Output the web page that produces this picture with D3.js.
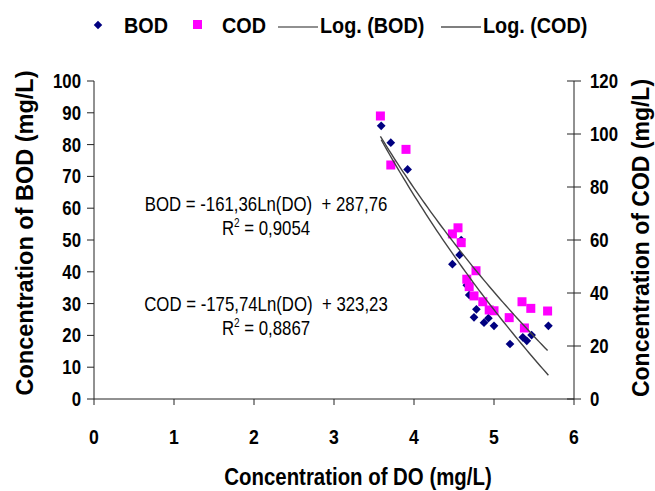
<!DOCTYPE html>
<html><head><meta charset="utf-8">
<script src="https://cdn.jsdelivr.net/npm/d3@7/dist/d3.min.js"></script>
<style>
body{margin:0;background:#fff}
svg text{font-family:"Liberation Sans",Arial,Helvetica,sans-serif;fill:#000}
</style>
</head><body>
<svg id="chart" width="655" height="491"></svg>
<script>
// ---- data ----
const doBOD   = [3.59,3.71,3.92,4.48,4.57,4.59,4.66,4.69,4.78,4.75,4.875,4.93,5.00,5.20,5.36,5.41,5.47,5.68];
const bodVals = [85.9,80.6,72.2,42.4,45.3,50.0,35.8,32.7,28.2,25.7,24.0,25.4,23.0,17.3,19.4,18.3,20.1,23.0];
const doCOD   = [3.58,3.71,3.90,4.48,4.55,4.59,4.775,4.66,4.69,4.75,4.86,4.94,5.00,5.19,5.35,5.46,5.67,5.38];
const codVals = [106.8,88.3,94.2,62.3,64.6,59.0,48.4,45.2,42.4,38.9,36.7,33.6,33.3,30.7,36.7,34.2,33.2,26.8];
const xTicks   = [0,1,2,3,4,5,6];
const bodTicks = [0,10,20,30,40,50,60,70,80,90,100];
const codTicks = [0,20,40,60,80,100,120];
const legendLabels = ["BOD","COD","Log. (BOD)","Log. (COD)"];
const bodFit = [-161.36, 287.76];
const codFit = [-175.74, 323.23];
const eqBOD = "BOD = -161,36Ln(DO)  + 287,76", r2BOD = "0,9054";
const eqCOD = "COD = -175,74Ln(DO)  + 323,23", r2COD = "0,8867";
const xTitle = "Concentration of DO (mg/L)";
const yTitleL = "Concentration of BOD (mg/L)";
const yTitleR = "Concentration of COD (mg/L)";

// ---- layout ----
const L = 94, R = 574, T = 81, B = 399;
const K = 0.84; // horizontal text squeeze
const svg = d3.select("#chart");
const x = d3.scaleLinear().domain([0,6]).range([L,R]);
const yB = d3.scaleLinear().domain([0,100]).range([B,T]);
const yC = d3.scaleLinear().domain([0,120]).range([B,T]);
const axisColor = "#222";

function htext(g, tx, ty, str, size, anchor, weight, k){
  return g.append("text")
    .attr("transform", `translate(${tx},${ty}) scale(${k},1)`)
    .attr("text-anchor", anchor).attr("font-size", size)
    .attr("font-weight", weight).style("white-space","pre").text(str);
}

// axes lines
svg.append("line").attr("x1",L).attr("x2",L).attr("y1",T).attr("y2",B).attr("stroke",axisColor);
svg.append("line").attr("x1",R).attr("x2",R).attr("y1",T).attr("y2",B).attr("stroke",axisColor);
svg.append("line").attr("x1",L).attr("x2",R).attr("y1",B).attr("y2",B).attr("stroke",axisColor);

// left ticks
const gl = svg.append("g");
bodTicks.forEach(v=>{
  gl.append("line").attr("x1",L-7).attr("x2",L).attr("y1",yB(v)).attr("y2",yB(v)).attr("stroke",axisColor);
  htext(gl, 81, yB(v)+7, String(v), 20, "end", "bold", K);
});
// right ticks
const gr = svg.append("g");
codTicks.forEach(v=>{
  gr.append("line").attr("x1",R-7).attr("x2",R+7).attr("y1",yC(v)).attr("y2",yC(v)).attr("stroke",axisColor);
  htext(gr, 590, yC(v)+7, String(v), 20, "start", "bold", K);
});
// x ticks
const gx = svg.append("g");
xTicks.forEach(v=>{
  gx.append("line").attr("x1",x(v)).attr("x2",x(v)).attr("y1",B).attr("y2",B+6).attr("stroke",axisColor);
  htext(gx, x(v), 444, String(v), 21, "middle", "bold", K);
});

// titles
htext(svg, 358, 485, xTitle, 24, "middle", "bold", 0.85);
svg.append("text").attr("transform","translate(33,233) rotate(-90)")
  .attr("text-anchor","middle").attr("font-size",23.5).attr("font-weight","bold").text(yTitleL);
svg.append("text").attr("transform","translate(649,238) rotate(-90)")
  .attr("text-anchor","middle").attr("font-size",23).attr("font-weight","bold").text(yTitleR);

// markers
svg.append("g").selectAll("path").data(doBOD).join("path")
  .attr("d", d3.symbol().type(d3.symbolSquare).size(38))
  .attr("transform",(d,i)=>`translate(${x(d)},${yB(bodVals[i])}) rotate(45)`)
  .attr("fill","#000080");
svg.append("g").selectAll("rect").data(doCOD).join("rect")
  .attr("x",d=>x(d)-4.5).attr("y",(d,i)=>yC(codVals[i])-4.5)
  .attr("width",9).attr("height",9).attr("fill","#ff00ff");

// trendlines
function fitLine(fit, xs, ys){
  const xmin = d3.min(xs), xmax = d3.max(xs);
  const pts = d3.range(xmin, xmax+1e-9, (xmax-xmin)/60).map(t=>[x(t), ys(fit[0]*Math.log(t)+fit[1])]);
  svg.append("path").attr("d", d3.line()(pts)).attr("fill","none")
    .attr("stroke","#444").attr("stroke-width",1.4);
}
fitLine(bodFit, doBOD, yB);
fitLine(codFit, doCOD, yC);

// equations
function eq(cx, y1, line1, r2){
  htext(svg, cx, y1, line1, 20, "middle", "normal", K);
  const t = svg.append("text").attr("transform",`translate(${cx},${y1+24}) scale(${K},1)`)
    .attr("text-anchor","middle").attr("font-size",20);
  t.append("tspan").text("R");
  t.append("tspan").attr("font-size",12).attr("dy",-8).text("2");
  t.append("tspan").attr("dy",8).text(" = " + r2);
}
eq(266, 211, eqBOD, r2BOD);
eq(266, 311, eqCOD, r2COD);

// legend
const lg = svg.append("g");
const ly = 25;
lg.append("path").attr("d", d3.symbol().type(d3.symbolSquare).size(36)).attr("transform",`translate(98,${ly}) rotate(45)`).attr("fill","#000080");
htext(lg, 124, ly+8, legendLabels[0], 22, "start", "bold", 0.9);
lg.append("rect").attr("x",193).attr("y",ly-5).attr("width",9).attr("height",9).attr("fill","#ff00ff");
htext(lg, 222, ly+8, legendLabels[1], 22, "start", "bold", 0.9);
lg.append("line").attr("x1",278).attr("x2",318).attr("y1",ly+2).attr("y2",ly+2).attr("stroke","#222").attr("stroke-width",1.2);
htext(lg, 320, ly+8, legendLabels[2], 22, "start", "bold", 0.9);
lg.append("line").attr("x1",441).attr("x2",481).attr("y1",ly+2).attr("y2",ly+2).attr("stroke","#555").attr("stroke-width",1.6);
htext(lg, 483, ly+8, legendLabels[3], 22, "start", "bold", 0.9);
</script>
</body></html>
